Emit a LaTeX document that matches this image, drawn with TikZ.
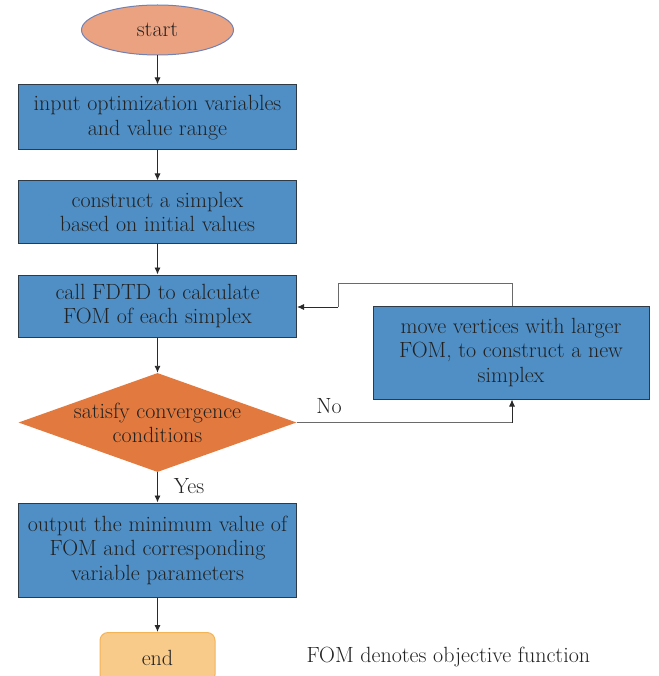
\documentclass[tikz,border=0pt]{standalone}
\usetikzlibrary{shapes.geometric,arrows.meta}
\definecolor{boxblue}{HTML}{4F8FC6}
\definecolor{boxedge}{HTML}{2E3A46}
\definecolor{startfill}{HTML}{EBA281}
\definecolor{startedge}{HTML}{6F82B5}
\definecolor{dfill}{HTML}{E27A3F}
\definecolor{endfill}{HTML}{F9CB8B}
\definecolor{endedge}{HTML}{F3B357}
\definecolor{txt}{HTML}{222222}
\definecolor{ln}{HTML}{2A2A2A}
\begin{document}
\begin{tikzpicture}[x=1pt,y=-1pt,
  every node/.style={text=txt,font=\fontsize{22}{24.5}\selectfont},
  procbox/.style={draw=boxedge,line width=1pt,fill=boxblue,align=center,inner sep=0pt},
  arr/.style={draw=ln,line width=0.9pt,-{Latex[length=7pt,width=6pt]}},
  plain/.style={draw=ln!70,line width=1pt}]
\useasboundingbox (0,0) rectangle (658,676);
\node[ellipse,draw=startedge,line width=1pt,fill=startfill,minimum width=152pt,minimum height=50pt,inner sep=0pt] (start) at (157.5,30) {start};
\node[procbox,minimum width=278pt,minimum height=65pt] (b1) at (157.5,117.5) {input optimization variables\\and value range};
\node[procbox,minimum width=278pt,minimum height=62pt] (b2) at (157.5,212) {construct a simplex\\based on initial values};
\node[procbox,minimum width=278pt,minimum height=62pt] (b3) at (157.5,306) {call FDTD to calculate\\FOM of each simplex};
\node[diamond,draw=none,fill=dfill,minimum width=278pt,minimum height=99pt,inner sep=0pt,aspect=2.8,align=center] (d) at (157.5,422.5) {};
\node[align=center] at (157.5,423) {satisfy convergence\\conditions};
\node[procbox,minimum width=278pt,minimum height=94pt] (b4) at (157.5,550) {output the minimum value of\\FOM and corresponding\\variable parameters};
\node[draw=endedge,line width=1pt,fill=endfill,rounded corners=8pt,minimum width=115pt,minimum height=50pt,inner sep=0pt,anchor=north] (end) at (157.5,632) {};
\node at (157.5,658) {end};
\node[procbox,minimum width=276pt,minimum height=93pt] (r) at (511,352.5) {move vertices with larger\\FOM, to construct a new\\simplex};
\node[anchor=west] (note) at (303,657) {FOM denotes objective function};
\draw[arr] (start) -- (b1);
\draw[arr] (b1) -- (b2);
\draw[arr] (b2) -- (b3);
\draw[arr] (b3) -- (d.north);
\draw[arr] (d.south) -- (b4);
\draw[arr] (b4) -- (end);
\coordinate (ne) at (512,422.5);
\draw[plain] (d.east) -- (ne);
\draw[arr] (ne) -- (r.south -| ne);
\coordinate (t1) at (512,283);
\coordinate (t2) at (338,283);
\coordinate (t3) at (338,307);
\draw[plain] (r.north -| t1) -- (t1) -- (t2) -- (t3);
\draw[arr] (t3) -- (t3 -| b3.east);
\node (no) at (329,406) {No};
\node (yes) at (189,486) {Yes};
\end{tikzpicture}
\end{document}
